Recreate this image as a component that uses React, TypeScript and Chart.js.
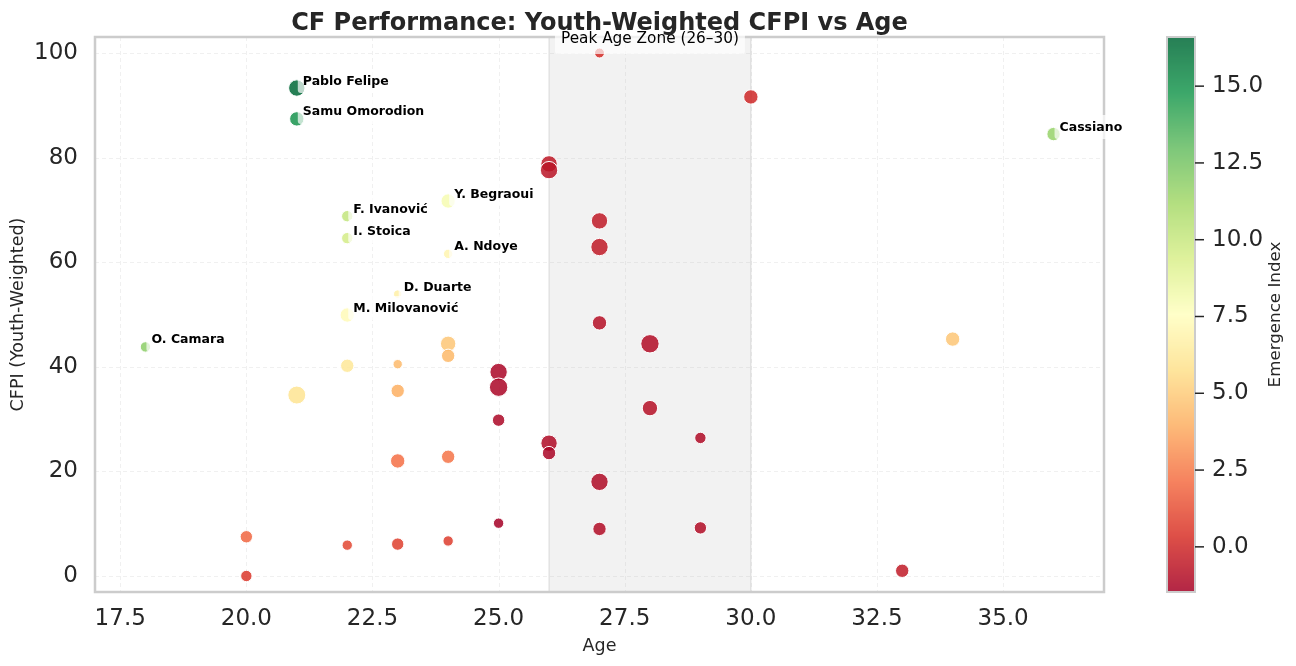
import { useEffect, useRef } from "react";
import { Chart, registerables } from "chart.js";

Chart.register(...registerables);

// ---------- data ----------
const ages = [27, 30, 21, 21, 36, 26, 26, 24, 22, 27, 22, 27, 24, 23, 22, 27, 18, 28, 34, 24, 24, 22, 23, 25, 25, 21, 23, 28, 25, 29, 26, 26, 23, 24, 27, 25, 27, 29, 20, 22, 23, 24, 20, 33];
const cfpi = [100.0, 91.6, 93.3, 87.4, 84.5, 78.8, 77.6, 71.7, 68.8, 67.9, 64.6, 62.9, 61.6, 53.9, 49.9, 48.4, 43.8, 44.4, 45.3, 44.4, 42.1, 40.2, 40.5, 39.0, 36.1, 34.6, 35.4, 32.1, 29.8, 26.4, 25.4, 23.5, 22.0, 22.8, 18.0, 10.1, 9.0, 9.2, 7.5, 5.9, 6.1, 6.7, 0.0, 1.0];
const emergence = [0.2, 0.0, 16.6, 15.0, 11.6, -0.6, -0.7, 8.0, 10.2, -0.5, 9.6, -0.5, 7.0, 6.7, 7.3, -0.9, 11.9, -1.0, 4.8, 4.8, 4.3, 6.2, 4.4, -1.3, -1.3, 6.0, 4.0, -0.9, -1.2, -1.1, -1.1, -1.3, 2.2, 2.3, -1.1, -1.47, -1.0, -1.0, 1.9, 1.0, 0.8, 0.7, 0.5, -0.5];
const bubbleSize = [5, 7.2, 8.2, 7.2, 6.7, 8.2, 8.7, 7.2, 5.7, 8.2, 5.7, 8.7, 4.7, 4.2, 7.2, 7.2, 5.2, 9.2, 7.2, 7.7, 6.7, 6.7, 4.7, 8.7, 9.2, 9, 6.7, 7.7, 6.2, 5.7, 8.2, 6.7, 7.2, 6.7, 8.7, 5.2, 6.7, 6.2, 6.2, 5.2, 6.2, 5.2, 5.7, 6.7];
const names = ["", "", "Pablo Felipe", "Samu Omorodion", "Cassiano", "", "", "Y. Begraoui", "F. Ivanović", "", "I. Stoica", "", "A. Ndoye", "D. Duarte", "M. Milovanović", "", "O. Camara", "", "", "", "", "", "", "", "", "", "", "", "", "", "", "", "", "", "", "", "", "", "", "", "", "", "", ""];

const xTicks = [17.5, 20, 22.5, 25, 27.5, 30, 32.5, 35];
const yTicks = [0, 20, 40, 60, 80, 100];
const cbTicks = [0, 2.5, 5, 7.5, 10, 12.5, 15];
const peakZone = [26, 30];

const TITLE = "CF Performance: Youth-Weighted CFPI vs Age";
const X_LABEL = "Age";
const Y_LABEL = "CFPI (Youth-Weighted)";
const CB_LABEL = "Emergence Index";
const PEAK_LABEL = "Peak Age Zone (26–30)";

// ---------- colormap ----------
const RDYLGN = ["#a50026", "#d73027", "#f46d43", "#fdae61", "#fee08b", "#ffffbf", "#d9ef8b", "#a6d96a", "#66bd63", "#1a9850", "#006837"];
const hexToRgb = (h: string) => [parseInt(h.slice(1, 3), 16), parseInt(h.slice(3, 5), 16), parseInt(h.slice(5, 7), 16)];
const STOPS = RDYLGN.map(hexToRgb);
function cmap(t: number, alpha: number) {
  const tt = Math.max(0, Math.min(1, t)) * (STOPS.length - 1);
  const i = Math.min(STOPS.length - 2, Math.floor(tt));
  const f = tt - i;
  const a = STOPS[i], b = STOPS[i + 1];
  const c = [0, 1, 2].map((k) => Math.round(a[k] + (b[k] - a[k]) * f));
  return `rgba(${c[0]},${c[1]},${c[2]},${alpha})`;
}
const VMIN = Math.min(...emergence);
const VMAX = Math.max(...emergence);
const norm = (v: number) => (v - VMIN) / (VMAX - VMIN);

const FONT = "DejaVu Sans";
const TEXT = "#262626";

export default function App() {
  const ref = useRef<HTMLCanvasElement | null>(null);

  useEffect(() => {
    document.body.style.margin = "0";
    const canvas = ref.current;
    if (!canvas) return;

    const overlay = {
      id: "overlay",
      beforeDatasetsDraw(chart: any) {
        const { ctx, chartArea: a, scales } = chart;
        const x = scales.x, y = scales.y;
        ctx.save();
        // grid
        ctx.strokeStyle = "rgba(0,0,0,0.06)";
        ctx.lineWidth = 1;
        ctx.setLineDash([4, 3]);
        for (const t of xTicks) {
          const px = Math.round(x.getPixelForValue(t)) + 0.5;
          ctx.beginPath(); ctx.moveTo(px, a.top); ctx.lineTo(px, a.bottom); ctx.stroke();
        }
        for (const t of yTicks) {
          const py = Math.round(y.getPixelForValue(t)) + 0.5;
          ctx.beginPath(); ctx.moveTo(a.left, py); ctx.lineTo(a.right, py); ctx.stroke();
        }
        ctx.setLineDash([]);
        // peak zone
        const x0 = x.getPixelForValue(peakZone[0]);
        const x1 = x.getPixelForValue(peakZone[1]);
        ctx.fillStyle = "rgba(128,128,128,0.1)";
        ctx.fillRect(x0, a.top, x1 - x0, a.bottom - a.top);
        ctx.strokeStyle = "rgba(128,128,128,0.18)";
        ctx.lineWidth = 1.5;
        for (const px of [x0, x1]) {
          ctx.beginPath(); ctx.moveTo(px, a.top); ctx.lineTo(px, a.bottom); ctx.stroke();
        }
        ctx.restore();
      },
      afterDatasetsDraw(chart: any) {
        const { ctx, chartArea: a, scales } = chart;
        const x = scales.x, y = scales.y, cb = scales.cb;
        ctx.save();
        // spines
        ctx.strokeStyle = "#cccccc";
        ctx.lineWidth = 2.5;
        ctx.strokeRect(a.left, a.top, a.right - a.left, a.bottom - a.top);

        // colorbar
        const cbL = 1167, cbR = 1195;
        const top = cb.top, bottom = cb.bottom;
        for (let py = Math.floor(top); py < bottom; py++) {
          const v = cb.getValueForPixel(py + 0.5);
          ctx.fillStyle = cmap(norm(v), 0.85);
          ctx.fillRect(cbL, py, cbR - cbL, 1);
        }
        ctx.strokeStyle = "#cccccc";
        ctx.lineWidth = 2;
        ctx.strokeRect(cbL, top, cbR - cbL, bottom - top);
        ctx.strokeStyle = TEXT;
        ctx.lineWidth = 1.5;
        for (const t of cbTicks) {
          const py = cb.getPixelForValue(t);
          ctx.beginPath(); ctx.moveTo(cbR, py); ctx.lineTo(cbR + 9, py); ctx.stroke();
        }
        // colorbar label
        ctx.save();
        ctx.translate(1276, (top + bottom) / 2);
        ctx.rotate(-Math.PI / 2);
        ctx.fillStyle = TEXT;
        ctx.font = `16.7px "${FONT}"`;
        ctx.textAlign = "center";
        ctx.textBaseline = "middle";
        ctx.fillText(CB_LABEL, 0, 0);
        ctx.restore();

        // point labels
        ctx.font = `bold 12.5px "${FONT}"`;
        ctx.textAlign = "left";
        ctx.textBaseline = "alphabetic";
        names.forEach((n, i) => {
          if (!n) return;
          const px = x.getPixelForValue(ages[i]);
          const py = y.getPixelForValue(cfpi[i]);
          const w = ctx.measureText(n).width;
          ctx.fillStyle = "rgba(255,255,255,0.7)";
          ctx.beginPath();
          (ctx as any).roundRect(px + 1, py - 19, w + 10, 24, 3);
          ctx.fill();
          ctx.fillStyle = "#000000";
          ctx.fillText(n, px + 6, py - 3.5);
        });

        // peak label
        ctx.font = `15.3px "${FONT}"`;
        const pcx = x.getPixelForValue((peakZone[0] + peakZone[1]) / 2);
        const pw = ctx.measureText(PEAK_LABEL).width;
        ctx.fillStyle = "rgba(255,255,255,0.7)";
        ctx.beginPath();
        (ctx as any).roundRect(pcx - pw / 2 - 6, 27, pw + 12, 27, 3);
        ctx.fill();
        ctx.fillStyle = "#000000";
        ctx.textAlign = "center";
        ctx.fillText(PEAK_LABEL, pcx, 43);

        // title
        ctx.font = `bold 24px "${FONT}"`;
        ctx.fillStyle = TEXT;
        ctx.textAlign = "center";
        ctx.fillText(TITLE, (a.left + a.right) / 2, 30);
        ctx.restore();
      },
    };

    const noVPad = (s: any) => { s.paddingTop = 0; s.paddingBottom = 0; };

    const chart = new Chart(canvas, {
      type: "bubble",
      data: {
        datasets: [
          {
            data: ages.map((a, i) => ({ x: a, y: cfpi[i], r: bubbleSize[i] })),
            backgroundColor: emergence.map((e) => cmap(norm(e), 0.85)),
            borderColor: "#ffffff",
            borderWidth: 1,
            hoverRadius: 0,
            xAxisID: "x",
            yAxisID: "y",
            clip: false as any,
          } as any,
        ],
      },
      options: {
        responsive: false,
        animation: false,
        events: [],
        layout: { padding: { top: 37, left: 0, right: 0, bottom: 0 } },
        plugins: { legend: { display: false }, tooltip: { enabled: false }, title: { display: false } },
        scales: {
          x: {
            type: "linear",
            position: "bottom",
            min: 17.0,
            max: 37.0,
            afterBuildTicks: (s: any) => { s.ticks = xTicks.map((v) => ({ value: v })); },
            afterFit: (s: any) => { s.height = 74; s.paddingLeft = 0; s.paddingRight = 0; },
            grid: { display: false, drawTicks: false },
            border: { display: false },
            ticks: {
              autoSkip: false,
              maxRotation: 0,
              padding: 13,
              color: TEXT,
              font: { family: FONT, size: 23 },
              callback: (v: any) => Number(v).toFixed(1),
            },
            title: { display: true, text: X_LABEL, color: TEXT, font: { family: FONT, size: 17.5 }, padding: { top: 0, bottom: 9.5 } },
          },
          y: {
            type: "linear",
            position: "left",
            min: -3.06,
            max: 103.06,
            afterBuildTicks: (s: any) => { s.ticks = yTicks.map((v) => ({ value: v })); },
            afterFit: (s: any) => { s.width = 95; noVPad(s); },
            grid: { display: false, drawTicks: false },
            border: { display: false },
            ticks: {
              autoSkip: false,
              padding: 17,
              color: TEXT,
              font: { family: FONT, size: 23 },
              callback: (v: any) => String(Math.round(Number(v))),
            },
            title: { display: true, text: Y_LABEL, color: TEXT, font: { family: FONT, size: 17.5 }, padding: { top: 7.5, bottom: 0 } },
          },
          cb: {
            type: "linear",
            axis: "y",
            position: "right",
            min: VMIN,
            max: VMAX,
            afterBuildTicks: (s: any) => { s.ticks = cbTicks.map((v) => ({ value: v })); },
            afterFit: (s: any) => { s.width = 192; noVPad(s); },
            grid: { display: false, drawTicks: false, drawOnChartArea: false },
            border: { display: false },
            ticks: {
              autoSkip: false,
              padding: 108,
              color: TEXT,
              font: { family: FONT, size: 23 },
              callback: (v: any) => Number(v).toFixed(1),
            },
          } as any,
        },
      },
      plugins: [overlay],
    });

    return () => chart.destroy();
  }, []);

  return (
    <div style={{ width: 1296, height: 666, background: "#ffffff" }}>
      <canvas ref={ref} width={1296} height={666} style={{ display: "block" }} />
    </div>
  );
}
